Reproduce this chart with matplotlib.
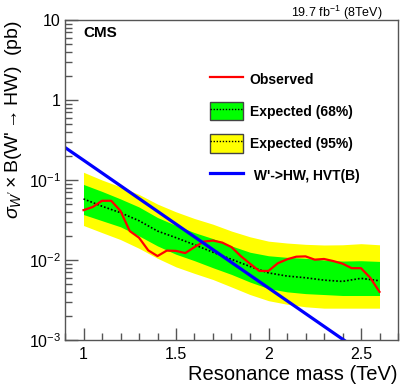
import matplotlib
matplotlib.use("Agg")
import matplotlib.pyplot as plt
from matplotlib.lines import Line2D
from matplotlib.patches import Patch
from matplotlib.ticker import FixedLocator, FixedFormatter, MultipleLocator, NullFormatter

plt.rcParams["font.family"] = ["Liberation Sans", "DejaVu Sans"]
plt.rcParams["mathtext.fontset"] = "custom"
plt.rcParams["mathtext.rm"] = "Liberation Sans"
plt.rcParams["mathtext.it"] = "Liberation Sans:italic"

# ---- expected limit (median + bands) ----
mass_exp = [1.0, 1.1, 1.2, 1.3, 1.4, 1.5, 1.6, 1.7, 1.8, 1.9, 2.0, 2.1, 2.2, 2.3, 2.4, 2.5, 2.6]
exp_med = [0.058, 0.047, 0.039, 0.031, 0.023, 0.019, 0.0155, 0.0125, 0.0102, 0.0083,
           0.0069, 0.0063, 0.0060, 0.0056, 0.0054, 0.0059, 0.0055]
exp_1s_up = [0.088, 0.072, 0.058, 0.046, 0.034, 0.027, 0.022, 0.0185, 0.015, 0.0125,
             0.0113, 0.0108, 0.0105, 0.0100, 0.0097, 0.0098, 0.0096]
exp_1s_dn = [0.037, 0.031, 0.026, 0.020, 0.015, 0.0118, 0.0098, 0.0080, 0.0066, 0.0053,
             0.0044, 0.0040, 0.0038, 0.0037, 0.0036, 0.0036, 0.0036]
exp_2s_up = [0.125, 0.100, 0.082, 0.066, 0.050, 0.040, 0.033, 0.028, 0.023, 0.0195,
             0.0172, 0.0163, 0.0157, 0.0154, 0.0155, 0.0160, 0.0155]
exp_2s_dn = [0.027, 0.022, 0.018, 0.014, 0.0105, 0.0082, 0.0068, 0.0057, 0.0046, 0.0037,
             0.0031, 0.0028, 0.0026, 0.0025, 0.0025, 0.0025, 0.0025]

# ---- observed limit ----
mass_obs = [1.00, 1.05, 1.10, 1.15, 1.20, 1.25, 1.30, 1.35, 1.40, 1.45, 1.50,
            1.55, 1.60, 1.65, 1.70, 1.75, 1.80, 1.85, 1.90, 1.95, 2.00,
            2.05, 2.10, 2.15, 2.20, 2.25, 2.30, 2.35, 2.40, 2.45, 2.50, 2.55, 2.60]
obs = [0.042, 0.046, 0.055, 0.055, 0.041, 0.023, 0.019, 0.0132, 0.0112, 0.0131, 0.0130,
       0.0122, 0.0145, 0.0170, 0.0175, 0.0165, 0.0145, 0.0112, 0.0090, 0.0073, 0.0073,
       0.0091, 0.0102, 0.0110, 0.0111, 0.0101, 0.0103, 0.0097, 0.0090, 0.0079, 0.0079,
       0.0060, 0.0040]

# ---- theory HVT(B) ----
mass_th = [0.9, 1.0, 1.5, 2.0, 2.5]
xs_th = [0.255, 0.177, 0.0281, 0.00447, 0.00071]

fig = plt.figure(figsize=(4.07, 3.91), dpi=100)
ax = fig.add_axes([65 / 407, 1 - 340 / 391, 333 / 407, 320 / 391])

ax.fill_between(mass_exp, exp_2s_dn, exp_2s_up, color="#FFFF00", lw=0)
ax.fill_between(mass_exp, exp_1s_dn, exp_1s_up, color="#00FF00", lw=0)
ax.plot(mass_exp, exp_med, color="black", ls=(0, (1, 1.2)), lw=1.2)
ax.plot(mass_obs, obs, color="#FF0000", lw=1.6)
ax.plot(mass_th, xs_th, color="#0000FF", lw=2.3)

ax.set_yscale("log")
ax.set_xlim(0.9, 2.7)
ax.set_ylim(1e-3, 10)

ax.xaxis.set_minor_locator(MultipleLocator(0.1))
ax.xaxis.set_major_locator(FixedLocator([1.0, 1.5, 2.0, 2.5]))
ax.xaxis.set_major_formatter(FixedFormatter(["1", "1.5", "2", "2.5"]))
ax.yaxis.set_major_locator(FixedLocator([1e-3, 1e-2, 1e-1, 1, 10]))
ax.yaxis.set_major_formatter(FixedFormatter(["$10^{-3}$", "$10^{-2}$", "$10^{-1}$", "1", "10"]))
ax.yaxis.set_minor_formatter(NullFormatter())

ax.tick_params(which="both", direction="in", top=False, right=False, labelsize=11.5,
               color="#555555")
ax.tick_params(which="major", length=9, width=1)
ax.tick_params(which="minor", length=5, width=1)
ax.tick_params(axis="x", pad=5)
ax.tick_params(axis="y", pad=3)
for sp in ax.spines.values():
    sp.set_color("#555555")
    sp.set_linewidth(1)

ax.set_xlabel("Resonance mass (TeV)", fontsize=14.5, loc="right", labelpad=2)
ax.set_ylabel(r"$\sigma_{W'}\times$B(W'$\rightarrow$HW)  (pb)", fontsize=14,
              loc="top")
ax.yaxis.set_label_coords((24 - 65) / 333, 1.0)

fig.text(83 / 407, 1 - 33 / 391, "CMS", fontsize=11, fontweight="bold", va="center", ha="left")
fig.text(383 / 407, 1 - 13 / 391, r"19.7 fb$^{-1}$ (8TeV)", fontsize=9, va="center", ha="right")

handles = [
    Line2D([], [], color="#FF0000", lw=1.6),
    (Patch(facecolor="#00FF00", edgecolor="#444444", lw=1),
     Line2D([], [], color="black", ls=(0, (1, 1.2)), lw=1)),
    (Patch(facecolor="#FFFF00", edgecolor="#444444", lw=1),
     Line2D([], [], color="black", ls=(0, (1, 1.2)), lw=1)),
    Line2D([], [], color="#0000FF", lw=2.3),
]
labels = ["Observed", "Expected (68%)", "Expected (95%)", " W'->HW, HVT(B)"]
leg = ax.legend(handles, labels, loc="upper left", bbox_to_anchor=(210 / 407, 1 - 70 / 391),
                bbox_transform=fig.transFigure, frameon=False, borderpad=0, borderaxespad=0,
                handlelength=2.4, handleheight=1.65, labelspacing=1.0, handletextpad=0.45,
                prop={"weight": "bold", "size": 10})

fig.savefig("out.png", dpi=100)
